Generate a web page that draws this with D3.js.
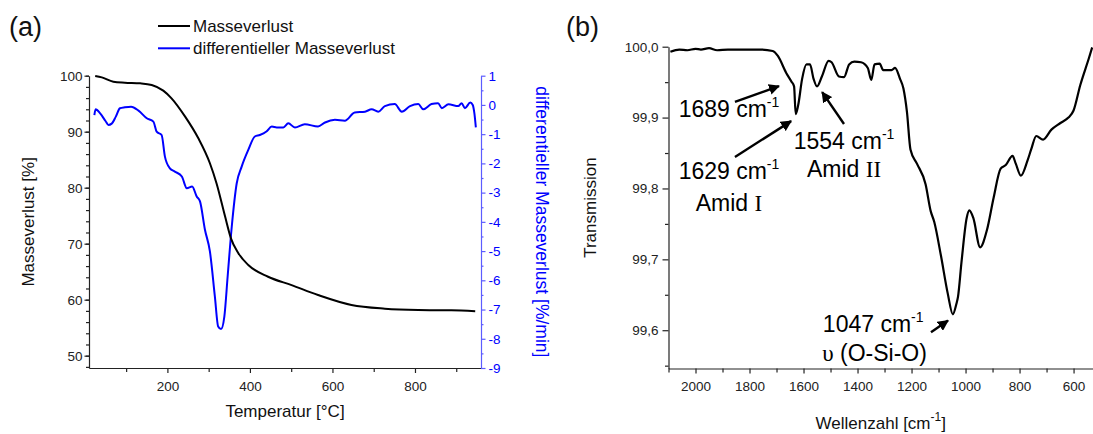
<!DOCTYPE html>
<html><head><meta charset="utf-8">
<script src="https://cdn.jsdelivr.net/npm/d3@7"></script>
<style>
body{margin:0;background:#fff}
svg{display:block}
text{font-family:"Liberation Sans",Arial,sans-serif}
</style>
</head><body>
<svg id="c" width="1093" height="434"></svg>
<script>
// ---------- Panel (a): TGA ----------
const tgaTemp = [25,41,69,97,134,162,190,210,243,275,303,319,340,354,372,396,444,501,565,646,727,808,888,946];
const tgaMass = [99.95,99.7,98.93,98.76,98.64,98.34,97.33,95.96,92.69,88.82,84.36,80.8,74.8,70.96,68.3,66.2,64.1,62.6,60.84,59.06,58.4,58.16,58.1,57.95];

const dtgTemp = [23,26,37,50,57,65,75,85,97,112,130,150,166,174,186,194,206,218,235,247,260,271,279,291,303,315,323,330,338,346,356,368,380,396,412,424,440,453,465,481,493,509,533,565,582,606,630,654,679,695,711,727,751,768,788,808,820,840,856,865,881,905,913,921,934,940,944,947.5];
const dtgRate = [-0.35,-0.15,-0.29,-0.55,-0.685,-0.64,-0.4,-0.115,-0.08,-0.058,-0.195,-0.457,-0.57,-0.913,-1.03,-1.77,-2.17,-2.28,-2.45,-2.85,-2.79,-3.13,-3.3,-4.27,-5.01,-6.55,-7.58,-7.67,-7.24,-5.87,-4.16,-2.68,-2.11,-1.54,-1.08,-1.03,-0.91,-0.74,-0.77,-0.77,-0.63,-0.77,-0.66,-0.74,-0.6,-0.51,-0.54,-0.26,-0.23,-0.15,-0.23,-0.04,0.03,-0.23,-0.04,0.03,-0.15,0.03,0.06,-0.11,0.02,-0.04,0.06,-0.11,0.08,0.0,-0.29,-0.77];

const tgaXMajor = [200,400,600,800];
const tgaXMinor = [100,300,500,700,900];
const tgaYMajor = [50,60,70,80,90,100];
const tgaYMinor = d3.range(48,101,2);
const dtgYMajor = [1,0,-1,-2,-3,-4,-5,-6,-7,-8,-9];
const dtgYMinor = [0.5,-0.5,-1.5,-2.5,-3.5,-4.5,-5.5,-6.5,-7.5,-8.5];
const legendNames = ["Masseverlust","differentieller Masseverlust"];
const legendColors = ["#000000","#0000ff"];

// ---------- Panel (b): IR ----------
const irWavenumber = [2093,2060,2030,2000,1980,1950,1920,1880,1840,1800,1760,1714,1695,1664,1645,1635,1629,1620,1605,1589,1576,1563,1550,1532,1507,1496,1469,1450,1431,1412,1387,1362,1349,1337,1318,1305,1274,1261,1243,1230,1217,1204,1180,1148,1129,1116,1091,1066,1047,1034,1028,1015,996,986,971,946,921,896,870,851,826,814,795,770,757,738,713,682,650,619,600,575,543,531];
const irTransmission = [99.993,99.996,99.995,99.997,99.996,99.998,99.995,99.996,99.996,99.996,99.996,99.994,99.987,99.963,99.951,99.944,99.905,99.917,99.955,99.975,99.975,99.955,99.944,99.958,99.980,99.978,99.958,99.957,99.975,99.979,99.978,99.970,99.953,99.975,99.976,99.967,99.967,99.970,99.955,99.941,99.908,99.855,99.835,99.806,99.768,99.753,99.705,99.652,99.6225,99.637,99.647,99.696,99.758,99.769,99.758,99.717,99.741,99.787,99.828,99.833,99.846,99.835,99.818,99.840,99.855,99.874,99.869,99.883,99.892,99.900,99.910,99.946,99.984,99.999];

const irXMajor = [2000,1800,1600,1400,1200,1000,800,600];
const irXMinor = [2100,1900,1700,1500,1300,1100,900,700];
const irYMajor = [100.0,99.9,99.8,99.7,99.6];
const irYMinor = [99.95,99.85,99.75,99.65,99.55];

const peakText = ["1689","1629","1554","1047"];
const peakTextNu = [1876,1876,1450,1342];
const peakTextT = [99.9007,99.8139,99.8561,99.5982];
const arrowTailNu = [1854,1854,1450,1128];
const arrowTailT = [99.922,99.8444,99.891,99.597];
const arrowHeadNu = [1691,1646,1531,1065];
const arrowHeadT = [99.9445,99.895,99.936,99.6136];

const svg = d3.select("#c");
const fmtComma = d => d3.format(".1f")(d).replace(".", ",");

svg.append("defs").append("marker")
  .attr("id","ah").attr("viewBox","0 0 10 10").attr("refX",9).attr("refY",5)
  .attr("markerWidth",4.6).attr("markerHeight",4.6).attr("markerUnits","strokeWidth")
  .attr("orient","auto")
  .append("path").attr("d","M0,0 L10,5 L0,10 z").attr("fill","#000");

// ===== Panel (a) =====
const ax = {l:89, r:481, t:75.7, b:368};
const xA = d3.scaleLinear().domain([10,960]).range([ax.l, ax.r]);
const yA = d3.scaleLinear().domain([47.8,100]).range([ax.b, ax.t]);
const yA2 = d3.scaleLinear().domain([-9,1]).range([ax.b, ax.t]);

function styleAxis(g, color, size){
  g.selectAll("path.domain").attr("stroke", color).attr("stroke-width",1.2);
  g.selectAll(".tick line").attr("stroke", color).attr("stroke-width",1.2);
  g.selectAll(".tick text").attr("fill", color).style("font-size", size+"px")
   .style("font-family",'"Liberation Sans",Arial,sans-serif');
}

// x axis (a)
let g = svg.append("g").attr("transform",`translate(0,${ax.b})`)
  .call(d3.axisBottom(xA).tickValues(tgaXMinor).tickSize(4).tickFormat(""));
g.select(".domain").remove(); styleAxis(g,"#222",13);
g = svg.append("g").attr("transform",`translate(0,${ax.b})`)
  .call(d3.axisBottom(xA).tickValues(tgaXMajor).tickSize(5).tickPadding(8).tickSizeOuter(0).tickFormat(d3.format("d")));
styleAxis(g,"#222",13.5);

// left y (a)
g = svg.append("g").attr("transform",`translate(${ax.l},0)`)
  .call(d3.axisLeft(yA).tickValues(tgaYMinor).tickSize(3).tickFormat(""));
g.select(".domain").remove(); styleAxis(g,"#222",13);
g = svg.append("g").attr("transform",`translate(${ax.l},0)`)
  .call(d3.axisLeft(yA).tickValues(tgaYMajor).tickSize(4.5).tickPadding(2).tickSizeOuter(0));
styleAxis(g,"#222",13.5);

// right y (a)
g = svg.append("g").attr("transform",`translate(${ax.r},0)`)
  .call(d3.axisRight(yA2).tickValues(dtgYMinor).tickSize(2.5).tickFormat(""));
g.select(".domain").remove(); styleAxis(g,"#5c5cff",13);
g = svg.append("g").attr("transform",`translate(${ax.r},0)`)
  .call(d3.axisRight(yA2).tickValues(dtgYMajor).tickSize(4.5).tickPadding(3).tickSizeOuter(0)
     .tickFormat(d => d3.format("d")(d).replace("−","-")));
styleAxis(g,"#5c5cff",13.5);
g.selectAll(".tick text").attr("fill","#0000ff");

// curves (a)
const tga = tgaTemp.map((t,i)=>[t,tgaMass[i]]);
const dtg = dtgTemp.map((t,i)=>[t,dtgRate[i]]);
svg.append("path").datum(dtg).attr("fill","none").attr("stroke","#0000ff").attr("stroke-width",2)
  .attr("stroke-linejoin","round")
  .attr("d", d3.line().x(d=>xA(d[0])).y(d=>yA2(d[1])).curve(d3.curveMonotoneX));
svg.append("path").datum(tga).attr("fill","none").attr("stroke","#000").attr("stroke-width",2)
  .attr("d", d3.line().x(d=>xA(d[0])).y(d=>yA(d[1])).curve(d3.curveMonotoneX));

// titles (a)
svg.append("text").attr("transform",`translate(34,${(ax.t+ax.b)/2}) rotate(-90)`)
  .attr("text-anchor","middle").style("font-size","17px").attr("fill","#111").text("Masseverlust [%]");
svg.append("text").attr("transform",`translate(536,${(ax.t+ax.b)/2}) rotate(90)`)
  .attr("text-anchor","middle").style("font-size","17.5px").attr("fill","#0000ff")
  .text("differentieller Masseverlust [%/min]");
svg.append("text").attr("x",(ax.l+ax.r)/2).attr("y",417).attr("text-anchor","middle")
  .style("font-size","17px").attr("fill","#111").text("Temperatur [°C]");
svg.append("text").attr("x",9).attr("y",36).style("font-size","27px").attr("fill","#111").text("(a)");

// legend
legendNames.forEach((n,i)=>{
  const y = 26 + i*22.3;
  svg.append("line").attr("x1",158).attr("x2",190).attr("y1",y).attr("y2",y)
    .attr("stroke",legendColors[i]).attr("stroke-width",2);
  svg.append("text").attr("x",193).attr("y",y+5.5).style("font-size","17px").attr("fill","#111").text(n);
});

// ===== Panel (b) =====
const bx = {l:668.5, r:1093, t:46.7, b:368.5};
const xB = d3.scaleLinear().domain([2100,528]).range([bx.l, bx.r]);
const yB = d3.scaleLinear().domain([99.546,100.0]).range([bx.b, bx.t]);

g = svg.append("g").attr("transform",`translate(0,${bx.b})`)
  .call(d3.axisBottom(xB).tickValues(irXMinor).tickSize(4).tickFormat(""));
g.select(".domain").remove(); styleAxis(g,"#222",13);
g = svg.append("g").attr("transform",`translate(0,${bx.b})`)
  .call(d3.axisBottom(xB).tickValues(irXMajor).tickSize(5).tickPadding(8).tickSizeOuter(0).tickFormat(d3.format("d")));
styleAxis(g,"#222",13.5);

g = svg.append("g").attr("transform",`translate(${bx.l},0)`)
  .call(d3.axisLeft(yB).tickValues(irYMinor).tickSize(3.5).tickFormat(""));
g.select(".domain").remove(); styleAxis(g,"#222",13);
g = svg.append("g").attr("transform",`translate(${bx.l},0)`)
  .call(d3.axisLeft(yB).tickValues(irYMajor).tickSize(6).tickPadding(4).tickSizeOuter(0).tickFormat(fmtComma));
styleAxis(g,"#222",13.5);

const ir = irWavenumber.map((w,i)=>[w,irTransmission[i]]);
svg.append("path").datum(ir).attr("fill","none").attr("stroke","#000").attr("stroke-width",2.2)
  .attr("stroke-linejoin","round")
  .attr("d", d3.line().x(d=>xB(d[0])).y(d=>yB(d[1])).curve(d3.curveMonotoneX));

svg.append("text").attr("transform",`translate(596,${(bx.t+bx.b)/2}) rotate(-90)`)
  .attr("text-anchor","middle").style("font-size","17px").attr("fill","#111").text("Transmission");
const wl = svg.append("text").attr("x",(bx.l+bx.r)/2).attr("y",429).attr("text-anchor","middle")
  .style("font-size","17px").attr("fill","#111");
wl.append("tspan").text("Wellenzahl [cm");
wl.append("tspan").attr("dy",-8).style("font-size","12px").text("-1");
wl.append("tspan").attr("dy",8).text("]");
svg.append("text").attr("x",566).attr("y",36).style("font-size","27px").attr("fill","#111").text("(b)");

// annotations
peakText.forEach((p,i)=>{
  const t = svg.append("text").attr("x",xB(peakTextNu[i])).attr("y",yB(peakTextT[i]))
    .attr("text-anchor","middle").style("font-size","23px").attr("fill","#000");
  t.append("tspan").text(p+" cm");
  t.append("tspan").attr("dy",-10).style("font-size","14px").text("-1");
  svg.append("line").attr("x1",xB(arrowTailNu[i])).attr("y1",yB(arrowTailT[i]))
    .attr("x2",xB(arrowHeadNu[i])).attr("y2",yB(arrowHeadT[i]))
    .attr("stroke","#000").attr("stroke-width",2.4).attr("marker-end","url(#ah)");
});
const assignNu = [1876,1450,1337];
const assignT = [99.7682,99.8162,99.5565];
const assignSans = ["Amid ","Amid ",""];
const assignSerif = ["I","II","υ"];
const assignTail = ["","", " (O-Si-O)"];
assignNu.forEach((n,i)=>{
  const t = svg.append("text").attr("x",xB(n)).attr("y",yB(assignT[i]))
    .attr("text-anchor","middle").style("font-size","23px").attr("fill","#000");
  if(assignSans[i]) t.append("tspan").text(assignSans[i]);
  t.append("tspan").style("font-family",'"Liberation Serif","Times New Roman",serif').text(assignSerif[i]);
  if(assignTail[i]) t.append("tspan").text(assignTail[i]);
});
</script>
</body></html>
